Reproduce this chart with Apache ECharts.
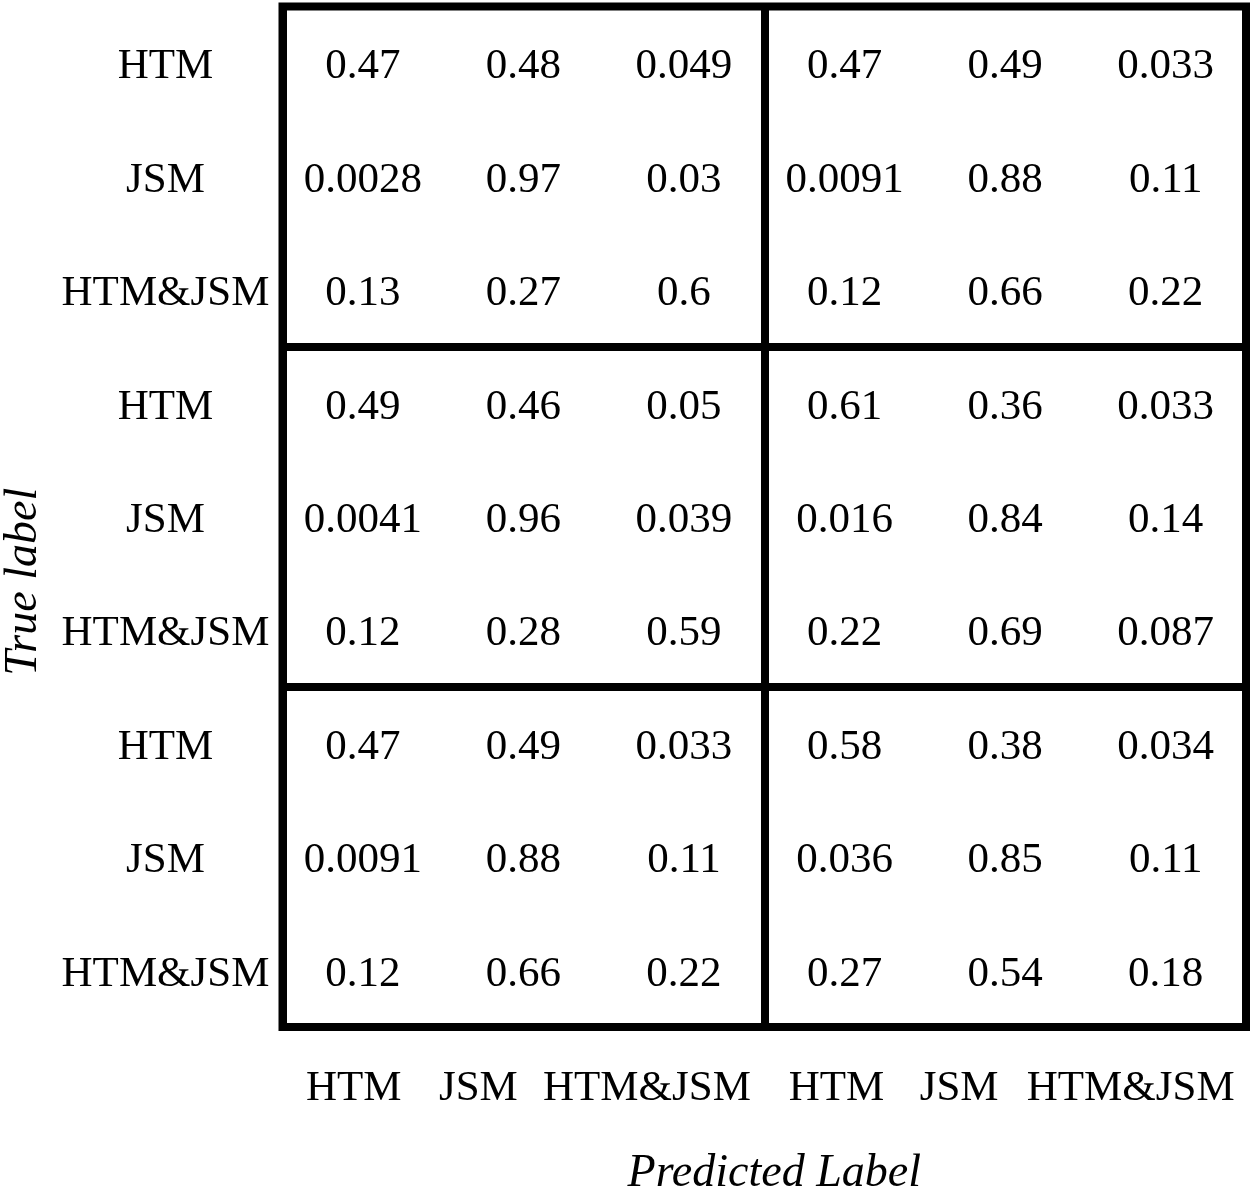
<!DOCTYPE html>
<html>
<head>
<meta charset="utf-8">
<script src="https://cdn.jsdelivr.net/npm/echarts@6/dist/echarts.min.js"></script>
<style>
  html, body { margin: 0; padding: 0; background: #fff; }
  #main { width: 1255px; height: 1191px; }
</style>
</head>
<body>
<div id="main"></div>
<script>
  // predicted (x) and true (y) labels, two blocks across, three blocks down
  var predLabels = ['HTM', 'JSM', 'HTM&JSM', 'HTM', 'JSM', 'HTM&JSM'];
  var trueLabels = ['HTM', 'JSM', 'HTM&JSM', 'HTM', 'JSM', 'HTM&JSM', 'HTM', 'JSM', 'HTM&JSM'];

  // rows top to bottom
  var row1 = [0.47, 0.48, 0.049, 0.47, 0.49, 0.033];
  var row2 = [0.0028, 0.97, 0.03, 0.0091, 0.88, 0.11];
  var row3 = [0.13, 0.27, 0.6, 0.12, 0.66, 0.22];
  var row4 = [0.49, 0.46, 0.05, 0.61, 0.36, 0.033];
  var row5 = [0.0041, 0.96, 0.039, 0.016, 0.84, 0.14];
  var row6 = [0.12, 0.28, 0.59, 0.22, 0.69, 0.087];
  var row7 = [0.47, 0.49, 0.033, 0.58, 0.38, 0.034];
  var row8 = [0.0091, 0.88, 0.11, 0.036, 0.85, 0.11];
  var row9 = [0.12, 0.66, 0.22, 0.27, 0.54, 0.18];

  var rows = [row1, row2, row3, row4, row5, row6, row7, row8, row9];
  var cells = [];
  rows.forEach(function (r, y) {
    r.forEach(function (v, x) {
      cells.push([x, y, v]);
    });
  });

  var serif = '"Liberation Serif", "Times New Roman", serif';
  var myChart = echarts.init(document.getElementById('main'));

  var option = {
    backgroundColor: '#fff',
    animation: false,
    grid: {
      left: 282.5, right: 9, top: 6.5, bottom: 164,
      outerBoundsMode: 'none',
      containLabel: false,
      show: true,
      borderColor: '#000',
      borderWidth: 8,
      backgroundColor: 'transparent'
    },
    xAxis: {
      type: 'category',
      data: predLabels,
      axisLine: { show: false },
      axisTick: { show: false },
      splitLine: {
        show: true,
        interval: function (i) { return i % 3 === 0; },
        lineStyle: { color: '#000', width: 8 }
      },
      axisLabel: {
        margin: 40,
        fontFamily: serif,
        fontSize: 43,
        color: '#000',
        interval: 0,
        formatter: function (v, i) { return '{s' + i + '|' + v + '}'; },
        rich: {
          s0: { fontFamily: serif, fontSize: 43, color: '#000', padding: [0, 18, 0, 0] },
          s1: { fontFamily: serif, fontSize: 43, color: '#000', padding: [0, 90, 0, 0] },
          s2: { fontFamily: serif, fontSize: 43, color: '#000', padding: [0, 74, 0, 0] },
          s3: { fontFamily: serif, fontSize: 43, color: '#000', padding: [0, 16, 0, 0] },
          s4: { fontFamily: serif, fontSize: 43, color: '#000', padding: [0, 92, 0, 0] },
          s5: { fontFamily: serif, fontSize: 43, color: '#000', padding: [0, 70, 0, 0] }
        }
      },
      name: 'Predicted Label',
      nameLocation: 'middle',
      nameGap: 124,
      nameTextStyle: {
        fontFamily: serif,
        fontStyle: 'italic',
        fontSize: 46,
        color: '#000',
        padding: [0, 0, 0, 20]
      }
    },
    yAxis: {
      type: 'category',
      inverse: true,
      data: trueLabels,
      axisLine: { show: false },
      axisTick: { show: false },
      splitLine: {
        show: true,
        interval: function (i) { return i === 3 || i === 6; },
        lineStyle: { color: '#000', width: 8 }
      },
      axisLabel: {
        margin: 117,
        align: 'center',
        interval: 0,
        fontFamily: serif,
        fontSize: 43,
        color: '#000',
        formatter: function (v) { return '{t|' + v + '}'; },
        rich: {
          t: { fontFamily: serif, fontSize: 43, color: '#000', padding: [8, 0, 0, 0] }
        }
      },
      name: 'True label',
      nameLocation: 'middle',
      nameGap: 236,
      nameRotate: 90,
      nameTextStyle: {
        fontFamily: serif,
        fontStyle: 'italic',
        fontSize: 46,
        color: '#000',
        padding: [0, 130, 0, 0]
      }
    },
    series: [
      {
        type: 'heatmap',
        data: cells,
        itemStyle: { color: 'rgba(0,0,0,0)' },
        label: {
          show: true,
          offset: [0, 4],
          fontFamily: serif,
          fontSize: 43,
          color: '#000',
          formatter: function (p) { return String(p.value[2]); }
        },
        emphasis: { disabled: true }
      }
    ]
  };

  myChart.setOption(option);
  window.addEventListener('resize', function () { myChart.resize(); });
</script>
</body>
</html>
